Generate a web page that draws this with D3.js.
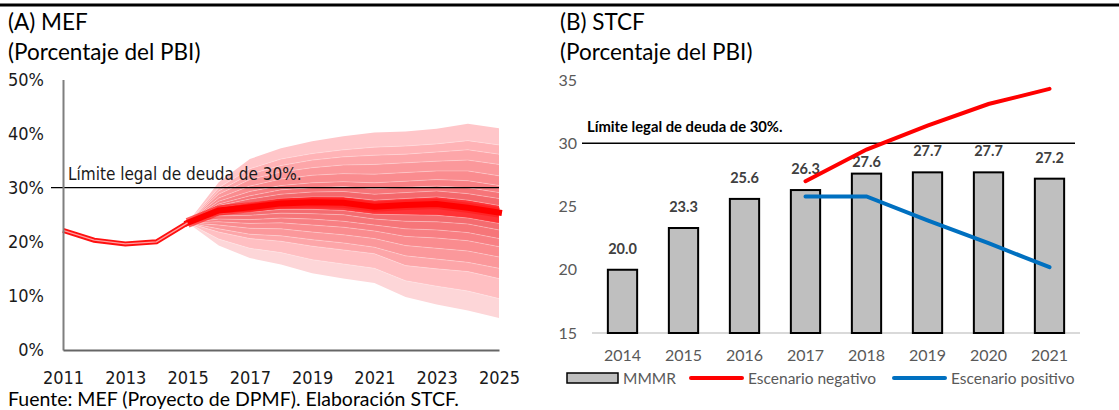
<!DOCTYPE html>
<html>
<head>
<meta charset="utf-8">
<script src="https://cdn.jsdelivr.net/npm/d3@7"></script>
<style>
  body { margin: 0; background: #fff; }
  svg { display: block; }
</style>
</head>
<body>
<script>
"use strict";

// (A) MEF - historical debt and fan chart, % of GDP
const histYears = [2011, 2012, 2013, 2014, 2015];
const histDebt = [22.1, 20.3, 19.6, 20.0, 23.5];

const fanYears = [2015, 2016, 2017, 2018, 2019, 2020, 2021, 2022, 2023, 2024, 2025];
const fanMedian = [23.5, 25.8, 26.4, 27.1, 27.3, 27.2, 26.5, 26.8, 27.0, 26.3, 25.4];

// upper edges of the bands, inner to outer
const hi1 = [23.5, 26.3, 27.2, 28.0, 28.3, 28.3, 27.7, 28.0, 28.3, 27.7, 26.7];
const hi2 = [23.5, 26.7, 27.9, 28.8, 29.2, 29.3, 28.8, 29.1, 29.4, 28.9, 28.0];
const hi3 = [23.5, 27.0, 28.5, 29.6, 30.0, 30.2, 29.8, 30.1, 30.3, 30.0, 29.1];
const hi4 = [23.5, 27.5, 29.3, 30.4, 30.9, 31.1, 30.9, 31.2, 31.5, 31.3, 30.4];
const hi5 = [23.5, 28.1, 30.3, 31.6, 32.3, 32.6, 32.5, 32.8, 33.1, 33.1, 32.2];
const hi6 = [23.5, 28.8, 31.5, 32.9, 33.7, 34.2, 34.3, 34.6, 34.9, 35.1, 34.3];
const hi7 = [23.5, 29.4, 32.5, 34.1, 35.1, 35.7, 36.0, 36.2, 36.6, 37.0, 36.2];
const hi8 = [23.5, 30.0, 33.5, 35.3, 36.3, 37.0, 37.5, 37.7, 38.1, 38.7, 37.9];
const hi9 = [23.5, 31.0, 35.3, 37.3, 38.6, 39.5, 40.2, 40.4, 40.9, 41.8, 41.0];

// lower edges of the bands, inner to outer
const lo1 = [23.5, 25.2, 25.5, 26.0, 26.0, 25.8, 25.1, 25.0, 24.9, 24.4, 23.4];
const lo2 = [23.5, 24.8, 24.9, 25.3, 25.2, 25.0, 24.2, 23.8, 23.7, 23.3, 22.2];
const lo3 = [23.5, 24.2, 24.1, 24.4, 24.2, 23.8, 23.1, 22.4, 22.2, 21.7, 20.6];
const lo4 = [23.5, 23.7, 23.4, 23.5, 23.1, 22.7, 22.0, 21.0, 20.7, 20.2, 19.1];
const lo5 = [23.5, 23.1, 22.5, 22.4, 21.8, 21.3, 20.6, 19.3, 18.8, 18.3, 17.2];
const lo6 = [23.5, 22.4, 21.4, 21.1, 20.4, 19.8, 19.0, 17.4, 16.8, 16.2, 15.1];
const lo7 = [23.5, 21.8, 20.6, 20.1, 19.2, 18.5, 17.8, 15.6, 15.0, 14.5, 13.2];
const lo8 = [23.5, 20.5, 18.8, 18.0, 16.7, 15.9, 15.1, 12.8, 11.8, 10.9, 9.5];
const lo9 = [23.5, 19.3, 17.0, 15.8, 14.2, 13.2, 12.4, 9.8, 8.4, 7.3, 5.9];

const leftYTicks = [0, 10, 20, 30, 40, 50];
const leftXTicks = [2011, 2013, 2015, 2017, 2019, 2021, 2023, 2025];
const debtLimit = 30;

// (B) STCF - MMMR bars and scenarios
const stcfYears = [2014, 2015, 2016, 2017, 2018, 2019, 2020, 2021];
const mmmr = [20.0, 23.3, 25.6, 26.3, 27.6, 27.7, 27.7, 27.2];
const scenYears = [2017, 2018, 2019, 2020, 2021];
const negScenario = [27.0, 29.5, 31.4, 33.1, 34.3];
const posScenario = [25.8, 25.8, 23.9, 22.1, 20.2];
const rightYTicks = [15, 20, 25, 30, 35];

const W = 1119, H = 410;
const narrow = "'Liberation Sans Narrow', 'Arial Narrow', 'DejaVu Sans Condensed', sans-serif";
const calibri = "Lato, 'Open Sans', sans-serif";

const svg = d3.select("body").append("svg")
  .attr("width", W)
  .attr("height", H);

// top rule
svg.append("line")
  .attr("x1", 0).attr("x2", W)
  .attr("y1", 5).attr("y2", 5)
  .attr("stroke", "#000")
  .attr("stroke-width", 3);

// titles
function title(x, main, sub) {
  svg.append("text").attr("x", x).attr("y", 30)
    .attr("font-family", calibri).attr("font-size", 22.5).attr("fill", "#000")
    .text(main);
  svg.append("text").attr("x", x).attr("y", 60)
    .attr("font-family", calibri).attr("font-size", 22.5).attr("fill", "#000")
    .text(sub);
}
title(8, "(A) MEF", "(Porcentaje del PBI)");
title(560, "(B) STCF", "(Porcentaje del PBI)");

svg.append("text")
  .attr("x", 8).attr("y", 406)
  .attr("font-family", calibri).attr("font-size", 19.5).attr("fill", "#000")
  .text("Fuente: MEF (Proyecto de DPMF). Elaboración STCF.");

// ---------- left panel ----------
const xL = d3.scaleLinear().domain([2011, 2025]).range([63, 499]);
const yL = d3.scaleLinear().domain([0, 50]).range([350, 79.5]);

const left = svg.append("g");

const hiEdges = [hi1, hi2, hi3, hi4, hi5, hi6, hi7, hi8, hi9];
const loEdges = [lo1, lo2, lo3, lo4, lo5, lo6, lo7, lo8, lo9];
const hiColors = ["#ff3236", "#f4686c", "#f67579", "#f88084", "#fa8c8f", "#fb989b", "#fda6a9", "#ffb3b6", "#ffc6c9"];
const loColors = ["#ff3236", "#f46c70", "#f67679", "#f88084", "#fa8c8f", "#fb989b", "#fda6a9", "#ffbfc2", "#fdd6d8"];

const band = d3.area()
  .x((d) => xL(d.year))
  .y0((d) => yL(d.a))
  .y1((d) => yL(d.b));

function bandData(inner, outer) {
  return fanYears.map((year, i) => ({ year, a: inner[i], b: outer[i] }));
}

// outer bands first, so the darker inner ones sit on top
for (let k = 8; k >= 0; k--) {
  const innerHi = k === 0 ? fanMedian : hiEdges[k - 1];
  const innerLo = k === 0 ? fanMedian : loEdges[k - 1];
  left.append("path")
    .datum(bandData(innerHi, hiEdges[k]))
    .attr("fill", hiColors[k])
    .attr("d", band);
  left.append("path")
    .datum(bandData(innerLo, loEdges[k]))
    .attr("fill", loColors[k])
    .attr("d", band);
}

const edgeLine = d3.line()
  .x((d) => xL(d.year))
  .y((d) => yL(d.v));

// faint light seams between the bands
hiEdges.slice(0, 8).concat(loEdges.slice(0, 8)).forEach((edge) => {
  left.append("path")
    .datum(fanYears.map((year, i) => ({ year, v: edge[i] })))
    .attr("fill", "none")
    .attr("stroke", "#ffffff")
    .attr("stroke-opacity", 0.35)
    .attr("stroke-width", 0.8)
    .attr("d", edgeLine);
});

// central projection
const medianData = fanYears.map((year, i) => ({ year, v: fanMedian[i] }));
left.append("path")
  .datum(medianData)
  .attr("fill", "none")
  .attr("stroke", "#ff1c1c")
  .attr("stroke-width", 10)
  .attr("stroke-opacity", 0.7)
  .attr("d", edgeLine);
left.append("path")
  .datum(medianData)
  .attr("fill", "none")
  .attr("stroke", "#ff0000")
  .attr("stroke-width", 6)
  .attr("stroke-linecap", "square")
  .attr("d", edgeLine);

// historical line with a light core
const histData = histYears.map((year, i) => ({ year, v: histDebt[i] }));
left.append("path")
  .datum(histData)
  .attr("fill", "none")
  .attr("stroke", "#ff1010")
  .attr("stroke-width", 5)
  .attr("d", edgeLine);
left.append("path")
  .datum(histData)
  .attr("fill", "none")
  .attr("stroke", "#ffa0a0")
  .attr("stroke-width", 1.2)
  .attr("d", edgeLine);

// 30% limit
left.append("line")
  .attr("x1", 51).attr("x2", xL(2025))
  .attr("y1", yL(debtLimit)).attr("y2", yL(debtLimit))
  .attr("stroke", "#000")
  .attr("stroke-width", 1.3);
left.append("text")
  .attr("x", 68).attr("y", yL(debtLimit) - 8)
  .attr("font-family", narrow).attr("font-size", 17).attr("fill", "#1a1a1a")
  .text("Límite legal de deuda de 30%.");

// axes
const yAxisL = d3.axisLeft(yL)
  .tickValues(leftYTicks)
  .tickFormat((d) => d + "%")
  .tickSize(0)
  .tickPadding(19);
const gyL = left.append("g").attr("transform", `translate(${xL(2011)},0)`).call(yAxisL);
gyL.select(".domain").attr("stroke", "#7f7f7f").attr("stroke-width", 2);
gyL.selectAll("text")
  .attr("font-family", narrow).attr("font-size", 18).attr("fill", "#1a1a1a");

const xAxisL = d3.axisBottom(xL)
  .tickValues(leftXTicks)
  .tickFormat(d3.format("d"))
  .tickSize(0)
  .tickPadding(21);
const gxL = left.append("g").attr("transform", `translate(0,${yL(0)})`).call(xAxisL);
gxL.select(".domain").attr("stroke", "#666").attr("stroke-width", 2);
gxL.selectAll("text")
  .attr("font-family", narrow).attr("font-size", 18).attr("fill", "#1a1a1a");

// ---------- right panel ----------
const xR = d3.scaleBand()
  .domain(stcfYears)
  .range([592, 1080])
  .paddingInner(0.52)
  .paddingOuter(0.26);
const yR = d3.scaleLinear().domain([15, 35]).range([333, 80]);

const right = svg.append("g");

const yAxisR = d3.axisLeft(yR)
  .tickValues(rightYTicks)
  .tickSize(0)
  .tickPadding(15);
const gyR = right.append("g").attr("transform", "translate(592,0)").call(yAxisR);
gyR.select(".domain").remove();
gyR.selectAll("text")
  .attr("font-family", calibri).attr("font-size", 16).attr("fill", "#595959");

const xAxisR = d3.axisBottom(xR).tickSize(0).tickPadding(17);
const gxR = right.append("g").attr("transform", `translate(0,${yR(15)})`).call(xAxisR);
gxR.select(".domain").remove();
gxR.selectAll("text")
  .attr("font-family", calibri).attr("font-size", 16).attr("fill", "#595959");

right.append("line")
  .attr("x1", 592).attr("x2", 1080)
  .attr("y1", yR(15)).attr("y2", yR(15))
  .attr("stroke", "#d9d9d9")
  .attr("stroke-width", 2);

// limit line
right.append("line")
  .attr("x1", 582).attr("x2", 1075)
  .attr("y1", yR(debtLimit)).attr("y2", yR(debtLimit))
  .attr("stroke", "#000")
  .attr("stroke-width", 1.3);
right.append("text")
  .attr("x", 587).attr("y", yR(debtLimit) - 11)
  .attr("font-family", calibri).attr("font-size", 14.8).attr("font-weight", "bold").attr("fill", "#000")
  .text("Límite legal de deuda de 30%.");

const bars = stcfYears.map((year, i) => ({ year, v: mmmr[i] }));

right.selectAll(".bar")
  .data(bars)
  .enter()
  .append("rect")
  .attr("class", "bar")
  .attr("x", (d) => xR(d.year))
  .attr("y", (d) => yR(d.v))
  .attr("width", xR.bandwidth())
  .attr("height", (d) => yR(15) - yR(d.v))
  .attr("fill", "#bfbfbf")
  .attr("stroke", "#000")
  .attr("stroke-width", 2);

// the 2018 label sits lower in the original, under the red line
const labelNudge = { 2018: 9 };
right.selectAll(".bar-label")
  .data(bars)
  .enter()
  .append("text")
  .attr("class", "bar-label")
  .attr("x", (d) => xR(d.year) + xR.bandwidth() / 2)
  .attr("y", (d) => yR(d.v) - 16 + (labelNudge[d.year] || 0))
  .attr("text-anchor", "middle")
  .attr("font-family", calibri).attr("font-size", 14.5).attr("font-weight", "bold").attr("fill", "#404040")
  .text((d) => d.v.toFixed(1));

const scenLine = d3.line()
  .x((d) => xR(d.year) + xR.bandwidth() / 2)
  .y((d) => yR(d.v));

right.append("path")
  .datum(scenYears.map((year, i) => ({ year, v: posScenario[i] })))
  .attr("fill", "none")
  .attr("stroke", "#0070c0")
  .attr("stroke-width", 4)
  .attr("stroke-linecap", "round")
  .attr("d", scenLine);

right.append("path")
  .datum(scenYears.map((year, i) => ({ year, v: negScenario[i] })))
  .attr("fill", "none")
  .attr("stroke", "#ff0000")
  .attr("stroke-width", 4)
  .attr("stroke-linecap", "round")
  .attr("d", scenLine);

// legend
const legend = right.append("g").attr("transform", "translate(0,378)");
legend.append("rect")
  .attr("x", 567).attr("y", -5).attr("width", 51).attr("height", 10)
  .attr("fill", "#bfbfbf").attr("stroke", "#000").attr("stroke-width", 1.5);
legend.append("line")
  .attr("x1", 691).attr("x2", 742).attr("y1", 0).attr("y2", 0)
  .attr("stroke", "#ff0000").attr("stroke-width", 4).attr("stroke-linecap", "round");
legend.append("line")
  .attr("x1", 894).attr("x2", 945).attr("y1", 0).attr("y2", 0)
  .attr("stroke", "#0070c0").attr("stroke-width", 4).attr("stroke-linecap", "round");
[["MMMR", 623], ["Escenario negativo", 748], ["Escenario positivo", 951]].forEach(([label, x]) => {
  legend.append("text")
    .attr("x", x).attr("y", 6)
    .attr("font-family", calibri).attr("font-size", 15.5).attr("fill", "#595959")
    .text(label);
});
</script>
</body>
</html>
